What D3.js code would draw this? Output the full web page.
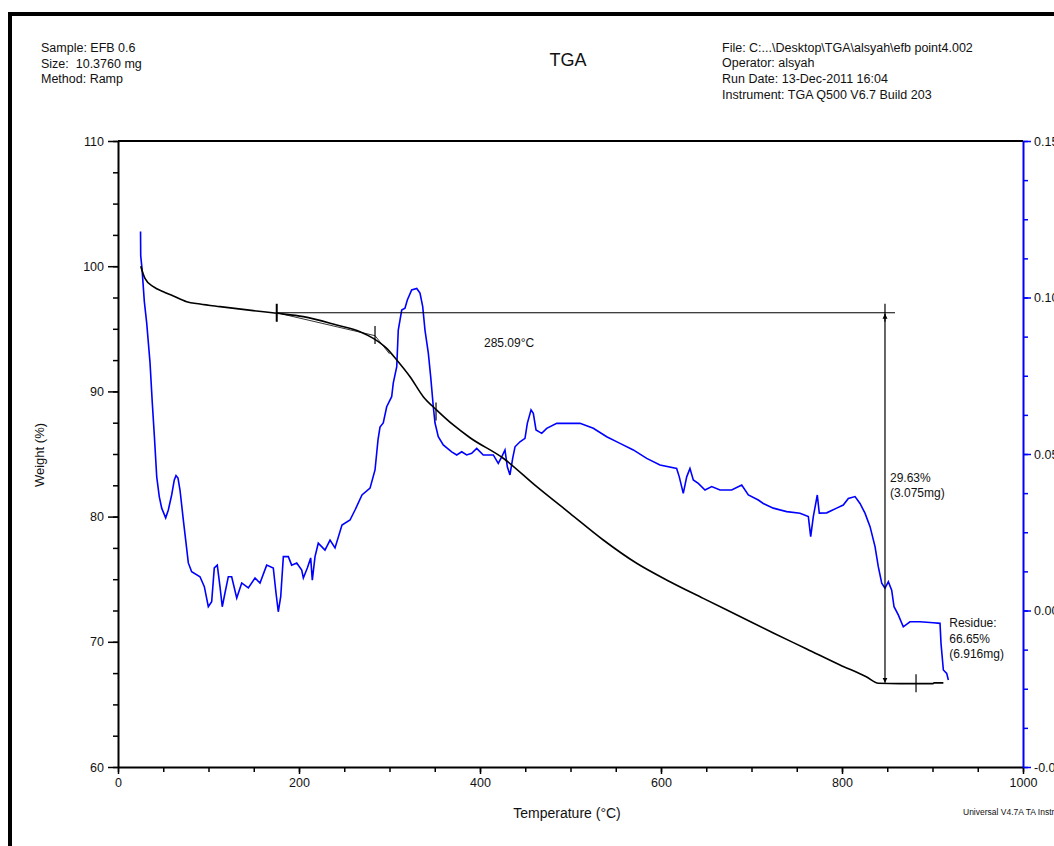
<!DOCTYPE html>
<html>
<head>
<meta charset="utf-8">
<script src="https://cdn.jsdelivr.net/npm/d3@7"></script>
<style>
  body { margin: 0; background: #fff; }
  svg { display: block; }
  text { font-family: Arial, "Liberation Sans", sans-serif; fill: #111; }
</style>
</head>
<body>
<div id="chart"></div>
<script>
// header texts
const leftInfo = ["Sample: EFB 0.6", "Size:  10.3760 mg", "Method: Ramp"];
const rightInfo = ["File: C:...\\Desktop\\TGA\\alsyah\\efb point4.002", "Operator: alsyah",
  "Run Date: 13-Dec-2011 16:04", "Instrument: TGA Q500 V6.7 Build 203"];

// axis ticks
const tempTicks = [0, 200, 400, 600, 800, 1000];
const weightTicks = [60, 70, 80, 90, 100, 110];
const derivTicks = [-0.05, 0.00, 0.05, 0.10, 0.15];
const derivLabels = ["-0.05", "0.00", "0.05", "0.10", "0.15"];

// weight (%) vs temperature (°C)
const weightTemp = [25.1, 29.8, 39.0, 50.1, 61.1, 75.9, 90.6, 112.7, 149.5, 175.4, 204.8, 241.7, 267.4, 282.1,
  296.9, 308.0, 322.7, 337.3, 352.2, 370.5, 389.0, 425.7, 462.7, 499.4, 536.2, 573.1, 609.9, 646.7,
  687.3, 724.1, 761.0, 797.8, 827.3, 840.1, 864.1, 900.6, 901.7, 912.0];
const weightVal = [100.0, 99.03, 98.36, 97.96, 97.62, 97.16, 96.98, 96.77, 96.45, 96.24, 95.97, 95.30, 94.77, 94.24,
  93.44, 92.51, 91.17, 89.58, 88.51, 87.32, 86.30, 84.66, 82.39, 80.26, 78.13, 76.27, 74.80, 73.47,
  72.02, 70.70, 69.43, 68.15, 67.19, 66.69, 66.66, 66.66, 66.72, 66.72];

// derivative weight (%/°C) vs temperature (°C)
const derivTemp = [24.9, 25.1, 26.5, 29.1, 31.7, 35.4, 37.9, 40.1, 42.8, 45.6, 48.3, 52.7, 55.6, 59.3, 62.2, 64.1,
  66.3, 68.5, 72.2, 74.8, 77.7, 81.4, 90.6, 95.4, 99.8, 103.5, 106.4, 109.7, 112.7, 115.2, 118.2, 121.9, 125.6,
  131.2, 136.7, 144.0, 151.4, 156.9, 164.3, 171.6, 174.6, 177.1, 179.8, 182.7, 188.2, 191.9, 197.5, 203.0, 204.8,
  209.2, 212.9, 214.7, 217.7, 221.3, 228.7, 234.3, 239.8, 247.5, 256.4, 261.9, 269.6, 278.5, 284.0, 287.3, 289.5,
  293.1, 296.9, 302.4, 304.2, 308.0, 309.7, 313.5, 317.1, 319.7, 324.5, 330.1, 333.7, 336.7, 339.2, 342.9, 345.5,
  348.4, 350.3, 353.9, 359.4, 368.7, 374.3, 379.8, 385.3, 390.8, 396.4, 403.6, 414.7, 420.2, 424.0, 427.6, 430.2,
  433.1, 436.1, 438.7, 444.2, 449.7, 452.3, 456.4, 458.9, 461.9, 468.2, 473.7, 484.8, 510.5, 525.2, 540.0, 554.7,
  569.4, 584.2, 598.9, 617.3, 620.2, 624.6, 628.4, 632.0, 635.7, 641.2, 648.6, 656.0, 665.2, 678.1, 689.2, 696.5,
  707.5, 713.0, 724.1, 738.9, 753.6, 762.8, 765.4, 768.3, 772.7, 774.9, 783.1, 794.1, 801.4, 807.0, 814.4, 819.9,
  825.4, 831.0, 836.5, 840.1, 843.9, 847.5, 851.2, 854.9, 857.5, 862.2, 867.7, 875.1, 886.2, 900.9, 908.3, 909.4,
  912.0, 915.7, 917.5];
const derivVal = [0.1211, 0.1133, 0.1094, 0.0987, 0.0919, 0.0791, 0.0663, 0.0561, 0.0427, 0.0364, 0.0327, 0.0296,
  0.0321, 0.0369, 0.0417, 0.0431, 0.0423, 0.0385, 0.0289, 0.0225, 0.0152, 0.0124, 0.0108, 0.0076, 0.0012, 0.0028,
  0.0136, 0.0145, 0.0076, 0.0012, 0.0056, 0.0108, 0.0108, 0.0040, 0.0088, 0.0072, 0.0104, 0.0088, 0.0145, 0.0136,
  0.0056, -0.0004, 0.0044, 0.0172, 0.0172, 0.0145, 0.0152, 0.0129, 0.0104, 0.0136, 0.0168, 0.0097, 0.0172, 0.0215,
  0.0193, 0.0225, 0.0200, 0.0273, 0.0289, 0.0321, 0.0369, 0.0391, 0.0449, 0.0545, 0.0586, 0.0599, 0.0651, 0.0683,
  0.0727, 0.0779, 0.0896, 0.0960, 0.0966, 0.0992, 0.1024, 0.1029, 0.1014, 0.0971, 0.0896, 0.0822, 0.0747, 0.0651,
  0.0599, 0.0555, 0.0529, 0.0507, 0.0497, 0.0507, 0.0497, 0.0502, 0.0518, 0.0497, 0.0497, 0.0470, 0.0491, 0.0513,
  0.0459, 0.0433, 0.0486, 0.0523, 0.0539, 0.0550, 0.0598, 0.0641, 0.0630, 0.0577, 0.0566, 0.0582, 0.0598, 0.0598,
  0.0582, 0.0555, 0.0534, 0.0513, 0.0486, 0.0465, 0.0454, 0.0427, 0.0374, 0.0427, 0.0454, 0.0417, 0.0406, 0.0385,
  0.0396, 0.0385, 0.0385, 0.0401, 0.0369, 0.0353, 0.0342, 0.0327, 0.0316, 0.0311, 0.0300, 0.0236, 0.0300, 0.0369,
  0.0311, 0.0312, 0.0327, 0.0337, 0.0358, 0.0364, 0.0342, 0.0311, 0.0268, 0.0204, 0.0140, 0.0087, 0.0071, 0.0092,
  0.0065, 0.0012, -0.0014, -0.0052, -0.0036, -0.0036, -0.0039, -0.0041, -0.0105, -0.0190, -0.0201, -0.0222];

// analysis annotations (temperature, weight)
const stepStart = [175.4, 96.28];
const stepEnd = [858.6, 96.28];
const stepArrowT = 847.5;
const residueW = 66.65;
const onsetMarks = [[175.4, 96.28], [284.0, 94.5], [351.4, 88.4], [847.5, 96.28], [881.8, 66.68]];
const tangentLine = [[175.4, 96.28], [284.0, 94.45], [300.0, 93.0]];

const width = 1054, height = 846;
const svg = d3.select("#chart").append("svg")
  .attr("width", width)
  .attr("height", height);

// frame
svg.append("path")
  .attr("d", "M10,846 V14 H1054")
  .attr("fill", "none")
  .attr("stroke", "#000")
  .attr("stroke-width", 4);

const x = d3.scaleLinear().domain([0, 1000]).range([118, 1023]);
const yW = d3.scaleLinear().domain([60, 110]).range([767, 141]);
const yD = d3.scaleLinear().domain([-0.05, 0.15]).range([767, 141]);

// header
svg.selectAll(".linfo").data(leftInfo).enter().append("text")
  .attr("x", 41).attr("y", (d, i) => 52 + i * 15.5)
  .style("font-size", "12.5px")
  .style("white-space", "pre")
  .text(d => d);
svg.selectAll(".rinfo").data(rightInfo).enter().append("text")
  .attr("x", 722).attr("y", (d, i) => 51.5 + i * 15.9)
  .style("font-size", "12.5px")
  .text(d => d);
svg.append("text")
  .attr("x", 568).attr("y", 66)
  .attr("text-anchor", "middle")
  .style("font-size", "18px")
  .text("TGA");

// minor ticks
svg.append("g").attr("transform", "translate(118,0)")
  .call(d3.axisLeft(yW).tickValues(d3.range(60, 110.1, 2.5)).tickSize(5).tickFormat(""))
  .call(g => g.select(".domain").remove())
  .selectAll("line").attr("stroke-width", 1.5);
svg.append("g").attr("transform", "translate(0,767)")
  .call(d3.axisBottom(x).tickValues(d3.range(0, 1000.1, 50)).tickSize(5).tickFormat(""))
  .call(g => g.select(".domain").remove())
  .selectAll("line").attr("stroke-width", 1.5);
svg.append("g").attr("transform", "translate(1023,0)")
  .call(d3.axisRight(yD).tickValues(d3.range(-0.05, 0.1501, 0.0125)).tickSize(5).tickFormat(""))
  .call(g => g.select(".domain").remove())
  .selectAll("line").attr("stroke", "#0000ff").attr("stroke-width", 1.5);

// major axes
const leftAxis = svg.append("g").attr("transform", "translate(118,0)")
  .call(d3.axisLeft(yW).tickValues(weightTicks).tickSize(10).tickPadding(4).tickSizeOuter(0));
const bottomAxis = svg.append("g").attr("transform", "translate(0,767)")
  .call(d3.axisBottom(x).tickValues(tempTicks).tickSize(7).tickPadding(4).tickSizeOuter(0)
    .tickFormat(d3.format("d")));
const rightAxis = svg.append("g").attr("transform", "translate(1023,0)")
  .call(d3.axisRight(yD).tickValues(derivTicks).tickSize(8).tickPadding(3).tickSizeOuter(0)
    .tickFormat((d, i) => derivLabels[i]));

[leftAxis, bottomAxis].forEach(g => {
  g.select(".domain").attr("stroke", "#000").attr("stroke-width", 2);
  g.selectAll("line").attr("stroke", "#000").attr("stroke-width", 1.5);
  g.selectAll("text").style("font-size", "12.5px").attr("fill", "#111");
});
rightAxis.select(".domain").attr("stroke", "#0000ff").attr("stroke-width", 2);
rightAxis.selectAll("line").attr("stroke", "#0000ff").attr("stroke-width", 1.5);
rightAxis.selectAll("text").style("font-size", "12.5px").attr("fill", "#0000ff");

// top frame of plot
svg.append("line")
  .attr("x1", x(0)).attr("x2", x(1000))
  .attr("y1", yW(110)).attr("y2", yW(110))
  .attr("stroke", "#000").attr("stroke-width", 2);

// axis titles
svg.append("text")
  .attr("x", 567).attr("y", 818)
  .attr("text-anchor", "middle")
  .style("font-size", "14px")
  .text("Temperature (°C)");
svg.append("text")
  .attr("transform", "translate(44,455) rotate(-90)")
  .attr("text-anchor", "middle")
  .style("font-size", "13px")
  .text("Weight (%)");
svg.append("text")
  .attr("x", 963).attr("y", 815)
  .style("font-size", "8.5px")
  .text("Universal V4.7A TA Instruments");

// derivative curve
const derivData = derivTemp.map((t, i) => [t, derivVal[i]]);
svg.append("path")
  .datum(derivData)
  .attr("fill", "none")
  .attr("stroke", "#0000ff")
  .attr("stroke-width", 1.6)
  .attr("d", d3.line().x(d => x(d[0])).y(d => yD(d[1])));

// weight curve
const weightData = weightTemp.map((t, i) => [t, weightVal[i]]);
svg.append("path")
  .datum(weightData)
  .attr("fill", "none")
  .attr("stroke", "#000")
  .attr("stroke-width", 1.6)
  .attr("d", d3.line().x(d => x(d[0])).y(d => yW(d[1])).curve(d3.curveMonotoneX));

// tangent used for the onset
svg.append("path")
  .datum(tangentLine)
  .attr("fill", "none")
  .attr("stroke", "#000")
  .attr("stroke-width", 0.8)
  .attr("d", d3.line().x(d => x(d[0])).y(d => yW(d[1])));

// step line
svg.append("line")
  .attr("x1", x(stepStart[0])).attr("x2", x(stepEnd[0]))
  .attr("y1", yW(stepStart[1])).attr("y2", yW(stepEnd[1]))
  .attr("stroke", "#000").attr("stroke-width", 1.2);

// double arrow
const defs = svg.append("defs");
defs.append("marker")
  .attr("id", "arr")
  .attr("viewBox", "0 0 10 10")
  .attr("refX", 10).attr("refY", 5)
  .attr("markerWidth", 5).attr("markerHeight", 8)
  .attr("markerUnits", "userSpaceOnUse")
  .attr("orient", "auto-start-reverse")
  .append("path")
  .attr("d", "M0,0 L10,5 L0,10 Z")
  .attr("fill", "#000");
svg.append("line")
  .attr("x1", x(stepArrowT)).attr("x2", x(stepArrowT))
  .attr("y1", yW(stepStart[1]) + 1).attr("y2", yW(residueW) - 1)
  .attr("stroke", "#000").attr("stroke-width", 1.2)
  .attr("marker-start", "url(#arr)")
  .attr("marker-end", "url(#arr)");

// cross marks
svg.selectAll(".mark").data(onsetMarks).enter().append("line")
  .attr("x1", d => x(d[0])).attr("x2", d => x(d[0]))
  .attr("y1", d => yW(d[1]) - 9).attr("y2", d => yW(d[1]) + 9)
  .attr("stroke", "#000")
  .attr("stroke-width", (d, i) => i === 0 ? 2 : 1.2);

// annotation texts
svg.append("text")
  .attr("x", x(404.4)).attr("y", 347)
  .style("font-size", "12px")
  .text("285.09°C");
svg.selectAll(".lossTxt").data(["29.63%", "(3.075mg)"]).enter().append("text")
  .attr("x", x(853)).attr("y", (d, i) => 482 + i * 15)
  .style("font-size", "12px")
  .text(d => d);
svg.selectAll(".resTxt").data(["Residue:", "66.65%", "(6.916mg)"]).enter().append("text")
  .attr("x", x(918.5)).attr("y", (d, i) => 627 + i * 15.5)
  .style("font-size", "12px")
  .text(d => d);
</script>
</body>
</html>
